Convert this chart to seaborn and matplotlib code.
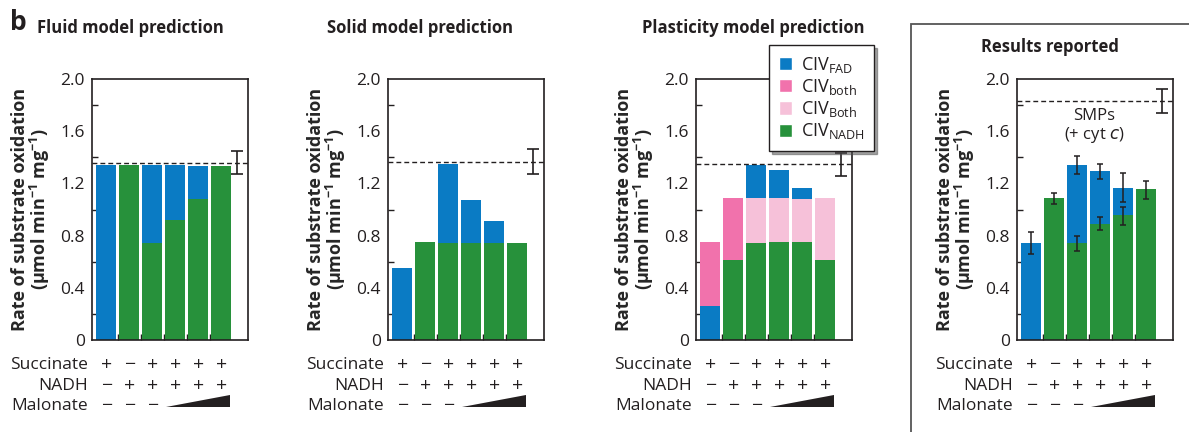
import numpy as np
import pandas as pd
import matplotlib
matplotlib.use("Agg")
import matplotlib.pyplot as plt
from matplotlib.patches import Patch, Rectangle
import seaborn as sns

# ------------------------------------------------------------------
# Substrate oxidation rates: model predictions vs. reported results
# ------------------------------------------------------------------

# colours
BLUE = "#0a7bc4"
GREEN = "#27913b"
HOT_PINK = "#f172ac"
LIGHT_PINK = "#f6c1d9"

conditions = ["1", "2", "3", "4", "5", "6"]
succinate = ["+", "\u2212", "+", "+", "+", "+"]
nadh = ["\u2212", "+", "+", "+", "+", "+"]
malonate = ["\u2212", "\u2212", "\u2212", "ramp", "ramp", "ramp"]

yticks = [0, 0.4, 0.8, 1.2, 1.6, 2.0]
ytick_labels = ["0", "0.4", "0.8", "1.2", "1.6", "2.0"]

# segment heights, listed bottom -> top
fluid_fad_low = [1.34, 0, 0, 0, 0, 0]
fluid_nadh = [0, 1.34, 0.74, 0.92, 1.08, 1.33]
fluid_fad = [0, 0, 0.60, 0.42, 0.25, 0]
fluid_dash = 1.355
fluid_ref = (1.27, 1.45)

solid_fad_low = [0.55, 0, 0, 0, 0, 0]
solid_nadh = [0, 0.75, 0.74, 0.74, 0.74, 0.745]
solid_fad = [0, 0, 0.61, 0.335, 0.17, 0]
solid_dash = 1.366
solid_ref = (1.27, 1.46)

plast_fad_low = [0.26, 0, 0, 0, 0, 0]
plast_nadh = [0, 0.61, 0.74, 0.75, 0.75, 0.61]
plast_both = [0.49, 0.48, 0, 0, 0, 0]
plast_Both = [0, 0, 0.35, 0.34, 0.33, 0.48]
plast_fad = [0, 0, 0.25, 0.21, 0.085, 0]
plast_dash = 1.346
plast_ref = (1.26, 1.435)

res_fad_low = [0.74, 0, 0, 0, 0, 0]
res_nadh = [0, 1.09, 0.74, 0.89, 0.955, 1.157]
res_fad = [0, 0, 0.60, 0.405, 0.21, 0]
res_dash = 1.831
res_ref = (1.74, 1.92)
# error bars on the reported data (lower, upper)
res_nadh_err_lo = [np.nan, 1.04, 0.68, 0.84, 0.88, 1.08]
res_nadh_err_hi = [np.nan, 1.13, 0.80, 0.94, 1.02, 1.22]
res_total_err_lo = [0.66, np.nan, 1.27, 1.23, 1.06, np.nan]
res_total_err_hi = [0.83, np.nan, 1.41, 1.35, 1.28, np.nan]

panels = [
    ("Fluid model prediction", [(BLUE, fluid_fad_low), (GREEN, fluid_nadh), (BLUE, fluid_fad)],
     fluid_dash, fluid_ref),
    ("Solid model prediction", [(BLUE, solid_fad_low), (GREEN, solid_nadh), (BLUE, solid_fad)],
     solid_dash, solid_ref),
    ("Plasticity model prediction", [(BLUE, plast_fad_low), (GREEN, plast_nadh), (HOT_PINK, plast_both),
                                     (LIGHT_PINK, plast_Both), (BLUE, plast_fad)],
     plast_dash, plast_ref),
    ("Results reported", [(BLUE, res_fad_low), (GREEN, res_nadh), (BLUE, res_fad)],
     res_dash, res_ref),
]

sns.set_theme(style="white")
plt.rcParams["font.family"] = ["Open Sans", "DejaVu Sans"]
plt.rcParams["mathtext.fontset"] = "custom"
plt.rcParams["mathtext.rm"] = "Open Sans"
plt.rcParams["mathtext.bf"] = "Open Sans:bold"
plt.rcParams["text.color"] = "#231f20"

W, H = 1189, 432
fig = plt.figure(figsize=(W / 100, H / 100), dpi=100)

ax_left_px = [92, 388, 696, 1017]
title_px = [(37, 28, "left"), (327, 28, "left"), (642, 28, "left"), (1050, 47, "center")]
ax_bottom, ax_top = 340, 79
ax_w = 156

XMIN, XMAX = -0.63, 6.17
REF_X = 5.7
BAR_W = 0.87
pos = np.arange(len(conditions))

for i, (title, layers, dash, ref) in enumerate(panels):
    ax = fig.add_axes([ax_left_px[i] / W, 1 - ax_bottom / H, ax_w / W, (ax_bottom - ax_top) / H])
    bottom = np.zeros(len(conditions))
    for color, vals in layers:
        vals = np.asarray(vals, float)
        df = pd.DataFrame({"cond": conditions, "val": vals})
        sns.barplot(data=df, x="cond", y="val", color=color, saturation=1, width=BAR_W,
                    bottom=bottom.copy(), errorbar=None, linewidth=0, ax=ax)
        bottom += vals

    ax.axhline(dash, color="#231f20", lw=1.0, dashes=(3.5, 2.2), zorder=3)
    ax.errorbar([REF_X], [(ref[0] + ref[1]) / 2], yerr=[(ref[1] - ref[0]) / 2], fmt="none",
                ecolor="#231f20", elinewidth=1.2, capsize=4, capthick=1.2, zorder=4)

    if i == 3:
        lo, hi = np.array(res_nadh_err_lo), np.array(res_nadh_err_hi)
        ax.errorbar(pos, (lo + hi) / 2, yerr=(hi - lo) / 2, fmt="none", ecolor="#231f20",
                    elinewidth=1.1, capsize=2.5, capthick=1.1, zorder=4)
        lo, hi = np.array(res_total_err_lo), np.array(res_total_err_hi)
        ax.errorbar(pos, (lo + hi) / 2, yerr=(hi - lo) / 2, fmt="none", ecolor="#231f20",
                    elinewidth=1.1, capsize=2.5, capthick=1.1, zorder=4)
        ax.text(2.74, 1.715, "SMPs", ha="center", va="center", fontsize=12)
        ax.text(2.74, 1.57, "(+ cyt $\\it{c}$)", ha="center", va="center", fontsize=12)

    ax.set_xlim(XMIN, XMAX)
    ax.set_ylim(0, 2.0)
    ax.set_xticks(pos[:-1] + 0.5)
    ax.set_xticklabels([])
    ax.set_xlabel("")
    ax.set_yticks(yticks)
    ax.set_yticklabels(ytick_labels)
    ax.set_yticks(np.array(yticks[:-1]) + 0.2, minor=True)
    ax.tick_params(axis="y", which="major", length=0, pad=5, labelsize=12.5, labelcolor="#231f20")
    ax.tick_params(axis="y", which="minor", left=True, direction="in", length=4, width=1, color="#231f20")
    ax.tick_params(axis="x", which="major", bottom=True, direction="in", length=4, width=1, color="#231f20")
    for sp in ax.spines.values():
        sp.set_visible(True)
        sp.set_color("#231f20")
        sp.set_linewidth(1.2)
    ax.set_ylabel("Rate of substrate oxidation\n(\u03bcmol min$^{\\mathbf{-1}}$ mg$^{\\mathbf{-1}}$)",
                  fontsize=13, fontweight="bold", linespacing=0.95, labelpad=6)

    # condition table under the axis
    tr = ax.get_xaxis_transform()
    rows = [("Succinate", succinate, -0.096), ("NADH", nadh, -0.176), ("Malonate", malonate, -0.253)]
    for name, signs, yy in rows:
        ax.text(-0.82, yy, name, transform=tr, ha="right", va="center", fontsize=12.5, clip_on=False)
        for x, s in zip(pos, signs):
            if s != "ramp":
                ax.text(x, yy, s, transform=tr, ha="center", va="center", fontsize=14, clip_on=False)
    ramp = [x for x, s in zip(pos, malonate) if s == "ramp"]
    x0, x1 = ramp[0] - 0.39, ramp[-1] + 0.39
    ax.fill([x0, x1, x1], [-0.258, -0.258, -0.21], color="#231f20", transform=tr, clip_on=False, lw=0)

    tx, ty, ha = title_px[i]
    fig.text(tx / W, 1 - ty / H, title, ha=ha, va="center", fontsize=12, fontweight="bold")

fig.text(10 / W, 1 - 23 / H, "b", ha="left", va="center", fontsize=19, fontweight="bold")

# legend for the plasticity panel
handles = [Patch(facecolor=BLUE), Patch(facecolor=HOT_PINK), Patch(facecolor=LIGHT_PINK), Patch(facecolor=GREEN)]
labels = ["CIV$_{\\mathrm{FAD}}$", "CIV$_{\\mathrm{both}}$", "CIV$_{\\mathrm{Both}}$", "CIV$_{\\mathrm{NADH}}$"]
leg = fig.legend(handles, labels, loc="upper left", bbox_to_anchor=(769 / W, 1 - 45 / H),
                 borderaxespad=0, frameon=True, fancybox=False, shadow=True, fontsize=13,
                 handlelength=0.75, handleheight=0.75, handletextpad=0.45, labelspacing=0.12,
                 borderpad=0.55, framealpha=1)
leg.get_frame().set_edgecolor("#231f20")
leg.get_frame().set_linewidth(1.0)

# box around the reported results
fig.add_artist(Rectangle((911 / W, -0.05), 0.3, 1 - 24 / H + 0.05, transform=fig.transFigure,
                         fill=False, ec="#555555", lw=1.3))

fig.savefig("out.png", dpi=100)
